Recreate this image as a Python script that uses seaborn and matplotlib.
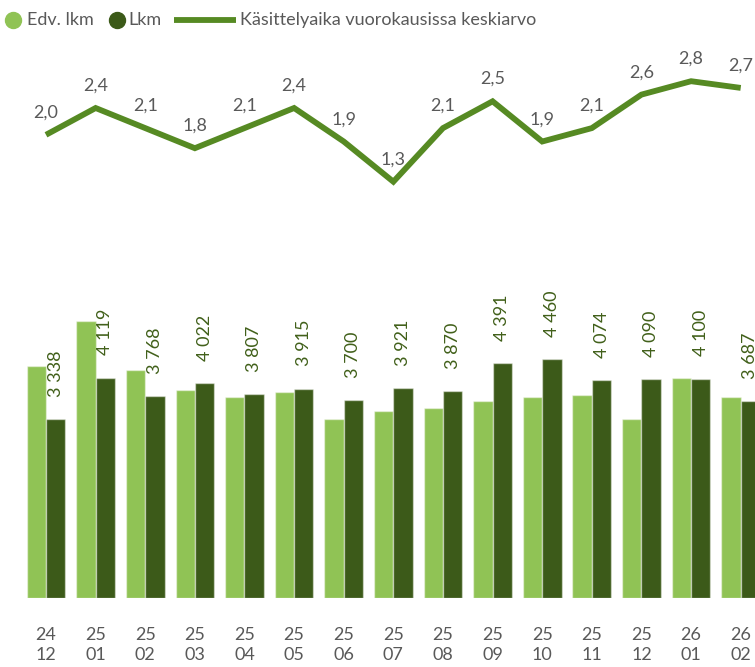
import numpy as np
import pandas as pd
import matplotlib
matplotlib.use("Agg")
import matplotlib.pyplot as plt
from matplotlib.lines import Line2D
import seaborn as sns

# --- data -------------------------------------------------------------
periods = ["24\n12", "25\n01", "25\n02", "25\n03", "25\n04", "25\n05", "25\n06",
           "25\n07", "25\n08", "25\n09", "25\n10", "25\n11", "25\n12", "26\n01", "26\n02"]
edv_lkm = [4337, 5178, 4262, 3888, 3763, 3857, 3346, 3501, 3552, 3677, 3758, 3789, 3346, 4119, 3763]
lkm = [3338, 4119, 3768, 4022, 3807, 3915, 3700, 3921, 3870, 4391, 4460, 4074, 4090, 4100, 3687]
kasittelyaika = [2.0, 2.4, 2.1, 1.8, 2.1, 2.4, 1.9, 1.3, 2.1, 2.5, 1.9, 2.1, 2.6, 2.8, 2.7]

series_names = ["Edv. lkm", "Lkm"]
line_name = "Käsittelyaika vuorokausissa keskiarvo"

# --- style ------------------------------------------------------------
LIGHT = "#90c355"
DARK = "#3c5a19"
LINE = "#568a23"
GREY = "#595959"
LABEL_GREEN = "#41601a"

sns.set_style("white")
plt.rcParams["font.family"] = ["Lato", "DejaVu Sans"]
plt.rcParams["font.size"] = 13

W, H = 755, 667
fig = plt.figure(figsize=(W / 100, H / 100), dpi=100)
ax = fig.add_axes([0, 69 / H, 1, 598 / H])

df = pd.DataFrame({
    "kausi": periods * 2,
    "sarja": [series_names[0]] * len(periods) + [series_names[1]] * len(periods),
    "arvo": edv_lkm + lkm,
})

sns.barplot(data=df, x="kausi", y="arvo", hue="sarja", order=periods,
            hue_order=series_names, palette=[LIGHT, DARK], width=0.78,
            saturation=1, edgecolor=(1, 1, 1, 0.45), linewidth=1,
            legend=False, ax=ax)

# value labels above the current-year bars
dark_bars = ax.containers[1]
ax.bar_label(dark_bars, labels=[f"{v:,}".replace(",", " ") for v in lkm],
             padding=16, rotation=90, color=LABEL_GREEN, fontsize=13)

ax.set_ylim(0, 11180)
ax.set_xlim(-0.927, 14.288)
ax.set_xlabel("")
ax.set_ylabel("")
ax.set_yticks([])
ax.set_xticks(range(len(periods)))
ax.set_xticklabels(periods, color=GREY, fontsize=13, linespacing=1.3)
ax.tick_params(axis="x", length=0, pad=21)
for s in ax.spines.values():
    s.set_visible(False)

# processing time line on a secondary axis
ax2 = ax.twinx()
x_pos = np.arange(len(periods))
sns.lineplot(x=x_pos, y=kasittelyaika, color=LINE, linewidth=4.2, ax=ax2,
             legend=False)
for line in ax2.lines:
    line.set_solid_joinstyle("miter")
    line.set_solid_capstyle("butt")
for xi, v in zip(x_pos, kasittelyaika):
    ax2.annotate(f"{v:.1f}".replace(".", ","), (xi, v), xytext=(0, 16),
                 textcoords="offset points", ha="center", va="center",
                 color=GREY, fontsize=13)
ax2.set_ylim(-4.913, 4.012)
ax2.set_xlim(-0.927, 14.288)
ax2.set_yticks([])
ax2.set_ylabel("")
for s in ax2.spines.values():
    s.set_visible(False)

# legend row across the top
def fx(px):
    return px / W

def fy(py):
    return 1 - py / H

ly = 20
fig.add_artist(Line2D([fx(13)], [fy(ly)], marker="o", markersize=11.5,
                      color=LIGHT, linestyle="none"))
fig.text(fx(27), fy(ly), series_names[0], color=GREY, fontsize=13,
         va="center", ha="left")
fig.add_artist(Line2D([fx(117)], [fy(ly)], marker="o", markersize=11.5,
                      color=DARK, linestyle="none"))
fig.text(fx(128), fy(ly), series_names[1], color=GREY, fontsize=13,
         va="center", ha="left")
fig.add_artist(Line2D([fx(174), fx(236)], [fy(ly), fy(ly)], color=LINE,
                      linewidth=4.2, solid_capstyle="butt"))
fig.text(fx(240), fy(ly), line_name, color=GREY, fontsize=13,
         va="center", ha="left")

fig.savefig("out.png", dpi=100)
